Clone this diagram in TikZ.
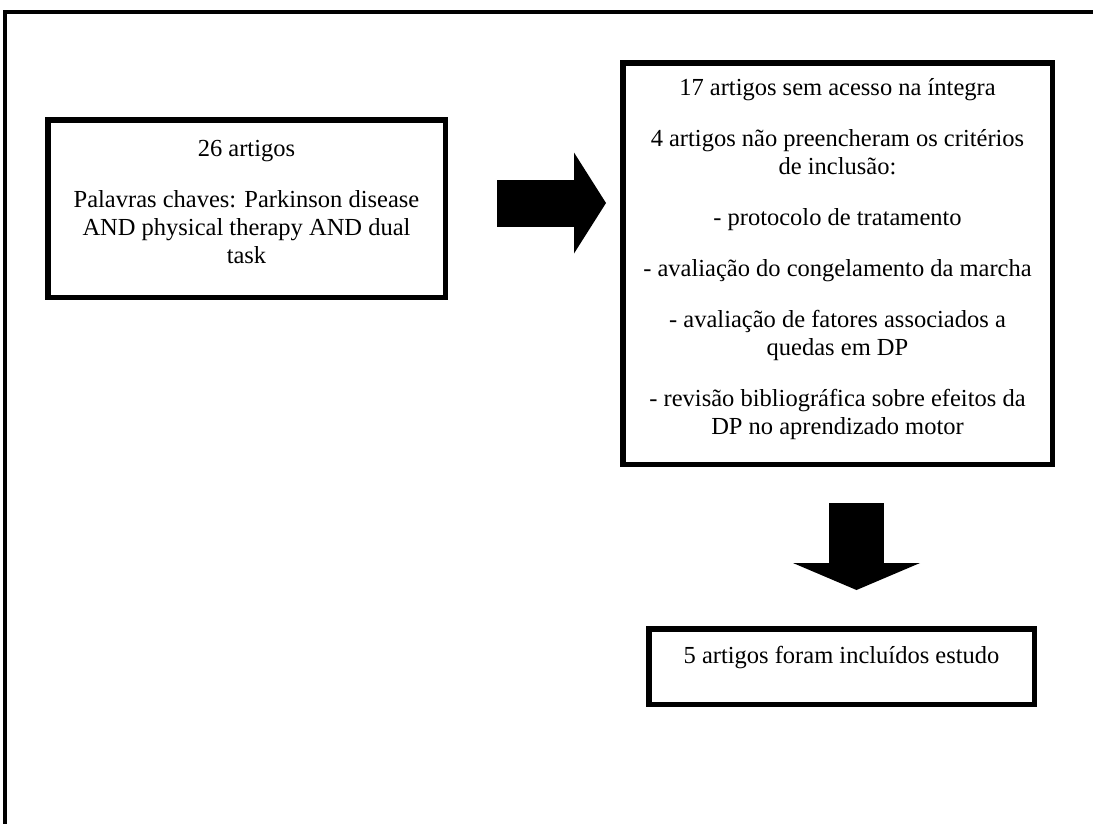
\documentclass[tikz,border=0pt]{standalone}
\usepackage{fontspec}
\setmainfont{Liberation Serif}
\usepackage{tikz}
\usetikzlibrary{arrows.meta,positioning,calc}

\begin{document}
\begin{tikzpicture}[x=1pt, y=-1pt,
    caixa/.style={draw, line width=5.5pt, rectangle, inner sep=0pt},
    texto/.style={align=center, inner sep=0pt, font=\fontsize{24.5}{28}\selectfont},
    seta/.style n args={3}{line width=#1, -{Triangle[width=#2, length=#3, line width=0pt]}}]
    \clip (0,0) rectangle (1093,823);
    % Outer frame
    \draw[line width=3.5pt] (5,12) rectangle (1200,900);

    % Boxes
    \node[caixa, minimum width=397.5pt, minimum height=177.5pt] (busca) at (246.5,208.5) {};
    \node[caixa, minimum width=429.5pt, minimum height=401.5pt] (exclusao) at (837.5,263.5) {};
    \node[caixa, minimum width=385.5pt, minimum height=75.5pt] (incluidos) at (841.5,666.5) {};

    % Texts
    \node[texto, below=23pt of busca.north] (busca_txt) {26 artigos\\[23pt]
        Palavras chaves: Parkinson disease\\ AND physical therapy AND dual\\ task};
    \node[texto, below=18pt of exclusao.north] (exclusao_txt) {17 artigos sem acesso na íntegra\\[23pt]
        4 artigos não preencheram os critérios\\ de inclusão:\\[23pt]
        - protocolo de tratamento\\[23pt]
        - avaliação do congelamento da marcha\\[23pt]
        - avaliação de fatores associados a\\ quedas em DP\\[23pt]
        - revisão bibliográfica sobre efeitos da\\ DP no aprendizado motor};
    \node[texto, below=20pt of incluidos.north] (incluidos_txt) {5 artigos foram incluídos estudo};

    % Arrows
    \draw[seta={47pt}{101pt}{32pt}] ($(busca.east)+(49,-5.5)$) -- ($(exclusao.west)+(-14,-60.5)$);
    \draw[seta={55pt}{127pt}{27pt}] ($(exclusao.south)+(19,36)$) -- ($(incluidos.north)+(15,-36)$);
\end{tikzpicture}
\end{document}
